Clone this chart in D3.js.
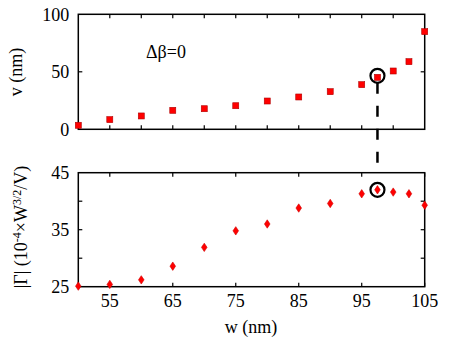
<!DOCTYPE html>
<html><head><meta charset="utf-8">
<script src="https://cdn.jsdelivr.net/npm/d3@7"></script>
<style>
html,body{margin:0;padding:0;background:#fff;}
</style></head>
<body>
<svg id="c" width="452" height="351" font-family="Liberation Serif"></svg>
<script>
const widths = [50, 55, 60, 65, 70, 75, 80, 85, 90, 95, 97.5, 100, 102.5, 105];
const vValues = [3.5, 8.4, 11.6, 16.5, 17.9, 20.5, 24.6, 28.1, 32.7, 38.8, 45.2, 50.7, 58.8, 84.9];
const gammaValues = [25.1, 25.4, 26.2, 28.6, 31.9, 34.8, 36.0, 38.8, 39.6, 41.3, 42.0, 41.6, 41.3, 39.3];
const highlightW = 97.5;
const xTicksTop = [55, 60, 65, 70, 75, 80, 85, 90, 95, 100];
const xTicksBottom = [55, 65, 75, 85, 95, 105];
const vTicks = [0, 50, 100];
const vMinorTicks = [50];
const gTicks = [25, 35, 45];
const gMinorTicks = [30, 35, 40];
const annotation = "Δβ=0";

const FONT = "Liberation Serif";
const svg = d3.select("#c");
const L = 78.3, R = 424.7;
const x = d3.scaleLinear().domain([50, 105]).range([L, R]);
const yTop = d3.scaleLinear().domain([0, 100]).range([129.3, 14.3]);
const yBot = d3.scaleLinear().domain([25, 45]).range([286.7, 172.7]);

function frame(y, yT, yMinor, xT, xTickLabels) {
  const g = svg.append("g");
  const y0 = y.range()[0], y1 = y.range()[1];
  xT.forEach(t => {
    g.append("line").attr("x1", x(t)).attr("x2", x(t)).attr("y1", y0).attr("y2", y0 - 4).attr("stroke", "#000").attr("stroke-width", 1.2);
    g.append("line").attr("x1", x(t)).attr("x2", x(t)).attr("y1", y1).attr("y2", y1 + 4).attr("stroke", "#000").attr("stroke-width", 1.2);
  });
  yMinor.forEach(t => {
    g.append("line").attr("x1", L).attr("x2", L + 4).attr("y1", y(t)).attr("y2", y(t)).attr("stroke", "#000").attr("stroke-width", 1.2);
    g.append("line").attr("x1", R).attr("x2", R - 4).attr("y1", y(t)).attr("y2", y(t)).attr("stroke", "#000").attr("stroke-width", 1.2);
  });
  g.append("rect").attr("x", L).attr("y", y1).attr("width", R - L).attr("height", y0 - y1)
    .attr("fill", "none").attr("stroke", "#000").attr("stroke-width", 1.5);
  yT.forEach(t => {
    g.append("text").attr("font-family", FONT).attr("x", L - 9).attr("y", y(t)).attr("dy", "0.35em").attr("text-anchor", "end")
      .attr("font-size", 18).text(t);
  });
  if (xTickLabels) {
    xTickLabels.forEach(t => {
      g.append("text").attr("font-family", FONT).attr("x", x(t)).attr("y", y0 + 20).attr("text-anchor", "middle")
        .attr("font-size", 18).text(t);
    });
  }
}

frame(yTop, vTicks, vMinorTicks, xTicksTop, null);
frame(yBot, gTicks, gMinorTicks, xTicksBottom, xTicksBottom);

svg.append("g").selectAll("rect").data(widths).join("rect")
  .attr("x", (d) => x(d) - 3).attr("y", (d, i) => yTop(vValues[i]) - 3)
  .attr("width", 6).attr("height", 6).attr("fill", "#ff0000").attr("stroke", "#b00000").attr("stroke-width", 0.6);

svg.append("g").selectAll("path").data(widths).join("path")
  .attr("transform", (d, i) => `translate(${x(d)},${yBot(gammaValues[i])})`)
  .attr("d", "M0,-4.2L2.8,0L0,4.2L-2.8,0Z")
  .attr("fill", "#ff0000").attr("stroke", "#d00000").attr("stroke-width", 0.6);

const hi = widths.indexOf(highlightW);
const cx = x(highlightW);
const cyTop = yTop(vValues[hi]) - 1.5, cyBot = yBot(gammaValues[hi]);
[cyTop, cyBot].forEach(cy => {
  svg.append("circle").attr("cx", cx).attr("cy", cy).attr("r", 7).attr("fill", "none")
    .attr("stroke", "#000").attr("stroke-width", 2.2);
});
svg.append("line").attr("x1", cx).attr("x2", cx).attr("y1", cyTop + 7).attr("y2", 167)
  .attr("stroke", "#000").attr("stroke-width", 2.5).attr("stroke-dasharray", "11,12");

svg.append("text").attr("font-family", FONT).attr("x", 146).attr("y", 58).attr("font-size", 18).text(annotation);

svg.append("text").attr("font-family", FONT).attr("transform", "translate(22,72) rotate(-90)").attr("text-anchor", "middle")
  .attr("font-size", 18).text("v (nm)");
const gl = svg.append("text").attr("font-family", FONT).attr("transform", "translate(27,227) rotate(-90)").attr("text-anchor", "middle")
  .attr("font-size", 18);
gl.append("tspan").text("|Γ| (10");
gl.append("tspan").attr("font-size", 12).attr("dy", -6).text("-4");
gl.append("tspan").attr("dy", 6).text("×W");
gl.append("tspan").attr("font-size", 12).attr("dy", -6).text("3/2");
gl.append("tspan").attr("dy", 6).text("/V)");
svg.append("text").attr("font-family", FONT).attr("x", 251).attr("y", 333).attr("text-anchor", "middle")
  .attr("font-size", 18).text("w (nm)");
</script>
</body></html>
